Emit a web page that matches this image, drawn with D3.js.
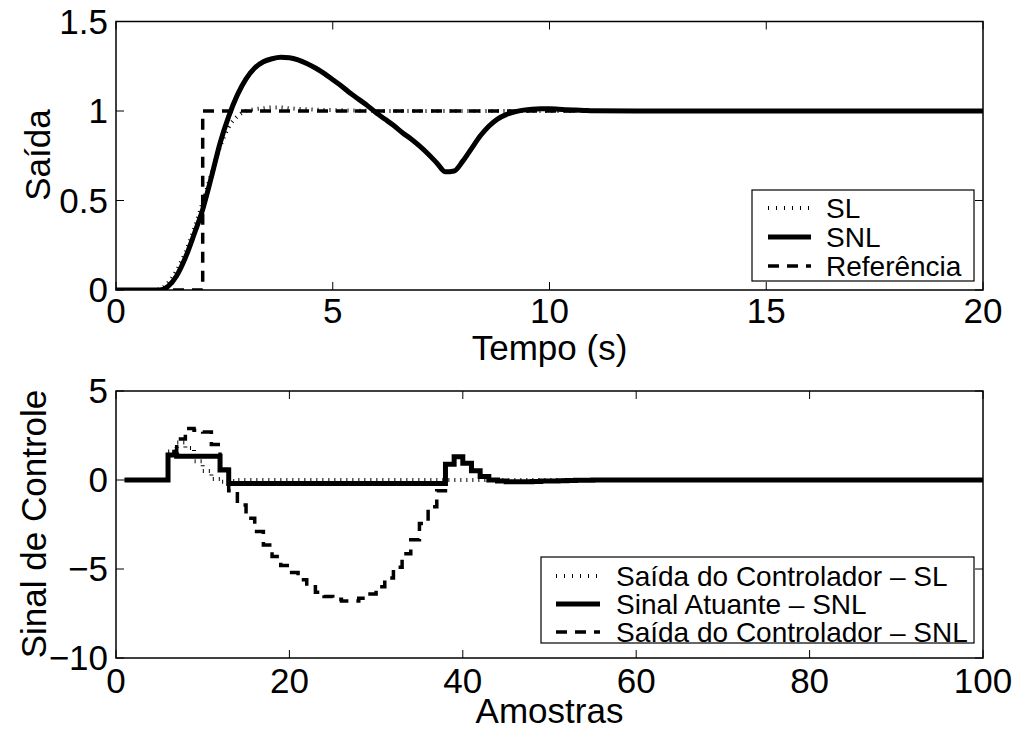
<!DOCTYPE html>
<html><head><meta charset="utf-8">
<script src="https://cdn.jsdelivr.net/npm/d3@7"></script>
<style>body{margin:0;background:#fff}svg{display:block}text{font-family:"Liberation Sans",Arial,Helvetica,sans-serif;fill:#000}</style>
</head><body><svg id="c" width="1018" height="729"></svg>
<script>
// ---------- Data: top plot (time in s) ----------
const tTime = [0,0.2,0.4,0.6,0.8,1.0,1.2,1.4,1.6,1.8,2.0,2.2,2.4,2.6,2.8,3.0,3.2,3.4,3.6,3.8,4.0,4.2,4.4,4.6,4.8,5.0,5.2,5.4,5.6,5.8,6.0,6.2,6.4,6.6,6.8,7.0,7.2,7.4,7.6,7.8,8.0,8.2,8.4,8.6,8.8,9.0,9.2,9.4,9.6,9.8,10.0,10.2,10.4,10.6,10.8,11.0,12,13,14,15,16,17,18,19,20];
const ySNL = [0,0,0,0,0,0,0.02,0.08,0.18,0.31,0.45,0.63,0.82,0.97,1.09,1.18,1.24,1.275,1.292,1.30,1.297,1.285,1.265,1.24,1.21,1.175,1.14,1.10,1.065,1.03,0.99,0.955,0.92,0.88,0.845,0.805,0.76,0.71,0.66,0.665,0.72,0.79,0.86,0.915,0.955,0.98,0.995,1.005,1.01,1.012,1.012,1.01,1.007,1.005,1.003,1.001,1,1,1,1,1,1,1,1,1];
const ySL = [0,0,0,0,0,0.005,0.04,0.11,0.21,0.34,0.49,0.65,0.80,0.91,0.97,1.0,1.01,1.015,1.02,1.02,1.015,1.012,1.01,1.008,1.006,1.005,1.004,1.003,1.002,1.001,1,1,1,1,1,1,1,1,1,1,1,1,1,1,1,1,1,1,1,1,1,1,1,1,1,1,1,1,1,1,1,1,1,1,1];
const refT = [0,2,2,20];
const refY = [0,0,1,1];
const topXTicks = [0,5,10,15,20];
const topYTicks = [0,0.5,1,1.5];
const topYTickLabels = ["0","0.5","1","1.5"];

// ---------- Data: bottom plot (samples 1..100) ----------
const samples = d3.range(1,101);
const uSL_head = [0,0,0,0,0,1.6,2.1,1.8,1.05,0.5,0.05,-0.1,-0.05];
const uAct_head = [0,0,0,0,0,1.4,1.33,1.33,1.33,1.33,1.33,0.56,-0.2,-0.2,-0.2,-0.2,-0.2,-0.2,-0.2,-0.2,-0.2,-0.2,-0.2,-0.2,-0.2,-0.2,-0.2,-0.2,-0.2,-0.2,-0.2,-0.2,-0.2,-0.2,-0.2,-0.2,-0.2,0.88,1.31,0.94,0.52,0.19,0.0,-0.05,-0.1,-0.1,-0.1,-0.08,-0.06,-0.05,-0.04,-0.03,-0.02,-0.01];
const uSNL_head = [0,0,0,0,0,1.6,2.3,2.9,2.8,2.7,2.0,0.6,-0.6,-1.4,-2.15,-2.9,-3.65,-4.3,-4.8,-5.2,-5.6,-6.0,-6.3,-6.55,-6.7,-6.8,-6.8,-6.65,-6.4,-6.0,-5.5,-4.9,-4.15,-3.35,-2.45,-1.5,-0.6,0.88,1.31,0.94,0.52,0.19,0.0,-0.05,-0.1,-0.1,-0.1,-0.08,-0.06,-0.05,-0.04,-0.03,-0.02,-0.01];
const botXTicks = [0,20,40,60,80,100];
const botYTicks = [-10,-5,0,5];
const botYTickLabels = ["\u221210","\u22125","0","5"];
const pad = (arr) => samples.map((s,i) => i < arr.length ? arr[i] : 0);
const uSL = pad(uSL_head), uAct = pad(uAct_head), uSNL = pad(uSNL_head);

const svg = d3.select("#c");
const L = 116, R = 983;

function frame(g, x, y, xTicks, yTicks, yLabels, xLabelY) {
  const [x0,x1] = x.range(), [y0,y1] = y.range();
  xTicks.forEach(v => {
    const px = x(v);
    g.append("line").attr("x1",px).attr("x2",px).attr("y1",y0).attr("y2",y0-8).attr("stroke","#000").attr("stroke-width",1);
    g.append("line").attr("x1",px).attr("x2",px).attr("y1",y1).attr("y2",y1+8).attr("stroke","#000").attr("stroke-width",1);
    g.append("text").attr("x",px).attr("y",xLabelY).attr("text-anchor","middle").attr("font-size",35).text(v);
  });
  yTicks.forEach((v,i) => {
    const py = y(v);
    g.append("line").attr("x1",x0).attr("x2",x0+8).attr("y1",py).attr("y2",py).attr("stroke","#000").attr("stroke-width",1);
    g.append("line").attr("x1",x1).attr("x2",x1-8).attr("y1",py).attr("y2",py).attr("stroke","#000").attr("stroke-width",1);
    g.append("text").attr("x",x0-8).attr("y",py+12).attr("text-anchor","end").attr("font-size",35).text(yLabels[i]);
  });
  g.append("rect").attr("x",x0).attr("y",y1).attr("width",x1-x0).attr("height",y0-y1)
    .attr("fill","none").attr("stroke","#000").attr("stroke-width",1.5);
}

// ---------- Top plot ----------
const xT = d3.scaleLinear().domain([0,20]).range([L,R]);
const yT = d3.scaleLinear().domain([0,1.5]).range([290,21.5]);
const gT = svg.append("g");
svg.append("clipPath").attr("id","clipT").append("rect").attr("x",L).attr("y",21.5).attr("width",R-L).attr("height",290-21.5);

const lineT = d3.line().x(d=>xT(d[0])).y(d=>yT(d[1]));
const lineTs = d3.line().x(d=>xT(d[0])).y(d=>yT(d[1])).curve(d3.curveMonotoneX);
const gTd = gT.append("g").attr("clip-path","url(#clipT)");
gTd.append("path").attr("d",lineT(refT.map((t,i)=>[t,refY[i]]))).attr("fill","none").attr("stroke","#000").attr("stroke-width",3.5).attr("stroke-dasharray","11,8");
gTd.append("path").attr("d",lineTs(tTime.map((t,i)=>[t,ySL[i]]))).attr("fill","none").attr("stroke","#000").attr("stroke-width",4).attr("stroke-dasharray","1,5");
gTd.append("path").attr("d",lineTs(tTime.map((t,i)=>[t,ySNL[i]]))).attr("fill","none").attr("stroke","#000").attr("stroke-width",5).attr("stroke-linejoin","round");
frame(gT, xT, yT, topXTicks, topYTicks, topYTickLabels, 323);
gT.append("text").attr("x",(L+R)/2).attr("y",360).attr("text-anchor","middle").attr("font-size",35).text("Tempo (s)");
gT.append("text").attr("transform","translate(50,155) rotate(-90)").attr("text-anchor","middle").attr("font-size",35).text("Saída");

function legend(g, x, y, w, h, items, lineX0, lineX1, textX, rowY) {
  g.append("rect").attr("x",x).attr("y",y).attr("width",w).attr("height",h).attr("fill","#fff").attr("stroke","#000").attr("stroke-width",1.2);
  items.forEach((it,i) => {
    const cy = rowY[i];
    g.append("line").attr("x1",lineX0).attr("x2",lineX1).attr("y1",cy).attr("y2",cy)
      .attr("stroke","#000").attr("stroke-width",it.w).attr("stroke-dasharray",it.dash||null);
    g.append("text").attr("x",textX).attr("y",cy+10).attr("font-size",28).text(it.label);
  });
}
const topLegendLabels = ["SL","SNL","Referência"];
legend(gT, 752, 190, 222, 91,
  [{label:topLegendLabels[0],w:4,dash:"1,7"},{label:topLegendLabels[1],w:5},{label:topLegendLabels[2],w:3.5,dash:"11,8"}],
  768, 811, 826, [208,237,266]);

// ---------- Bottom plot ----------
const xB = d3.scaleLinear().domain([0,100]).range([L,R]);
const yB = d3.scaleLinear().domain([-10,5]).range([658,391]);
const gB = svg.append("g");
svg.append("clipPath").attr("id","clipB").append("rect").attr("x",L).attr("y",391).attr("width",R-L).attr("height",658-391);
const stairs = d3.line().x(d=>xB(d[0])).y(d=>yB(d[1])).curve(d3.curveStepAfter);
const gBd = gB.append("g").attr("clip-path","url(#clipB)");
gBd.append("path").attr("d",stairs(samples.map((s,i)=>[s,uSNL[i]]))).attr("fill","none").attr("stroke","#000").attr("stroke-width",3.5).attr("stroke-dasharray","11,8");
gBd.append("path").attr("d",stairs(samples.map((s,i)=>[s,uSL[i]]))).attr("fill","none").attr("stroke","#000").attr("stroke-width",4).attr("stroke-dasharray","1,5");
gBd.append("path").attr("d",stairs(samples.map((s,i)=>[s,uAct[i]]))).attr("fill","none").attr("stroke","#000").attr("stroke-width",5);
frame(gB, xB, yB, botXTicks, botYTicks, botYTickLabels, 693);
gB.append("text").attr("x",(L+R)/2).attr("y",723).attr("text-anchor","middle").attr("font-size",35).text("Amostras");
gB.append("text").attr("transform","translate(46,524) rotate(-90)").attr("text-anchor","middle").attr("font-size",35).text("Sinal de Controle");

const botLegendLabels = ["Saída do Controlador \u2013 SL","Sinal Atuante \u2013 SNL","Saída do Controlador \u2013 SNL"];
legend(gB, 541, 557, 433, 86,
  [{label:botLegendLabels[0],w:4,dash:"1,7"},{label:botLegendLabels[1],w:5},{label:botLegendLabels[2],w:3.5,dash:"11,8"}],
  556, 600, 616, [576,604,632]);
</script></body></html>
